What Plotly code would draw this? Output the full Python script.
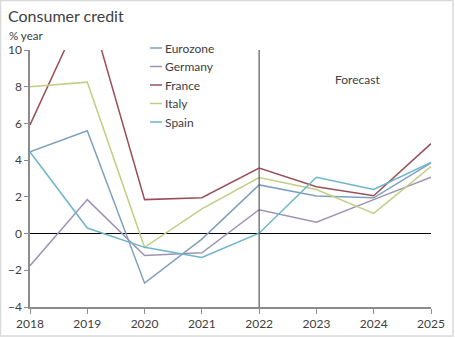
import plotly.graph_objects as go

years = [2018, 2019, 2020, 2021, 2022, 2023, 2024, 2025]
eurozone = [4.45, 5.6, -2.7, -0.3, 2.65, 2.05, 1.95, 3.85]
germany = [-1.75, 1.85, -1.2, -1.05, 1.3, 0.62, 1.85, 3.07]
france = [5.92, 12.7, 1.85, 1.95, 3.57, 2.55, 2.06, 4.9]
italy = [8.0, 8.25, -0.75, 1.35, 3.05, 2.4, 1.1, 3.65]
spain = [4.45, 0.3, -0.75, -1.3, 0.02, 3.07, 2.4, 3.88]

series = [
    ("Eurozone", eurozone, "#7f9fbf"),
    ("Germany", germany, "#9e92b4"),
    ("France", france, "#9a4f58"),
    ("Italy", italy, "#c2cd85"),
    ("Spain", spain, "#6cb3cc"),
]

FONT = "Lato"
TXT = "#404040"

fig = go.Figure()
for name, vals, col in series:
    fig.add_trace(go.Scatter(x=years, y=vals, mode="lines", name=name,
                             line=dict(color=col, width=1.5), showlegend=False))

W, H = 455, 338
ml, mr, mt, mb = 30, 24, 50, 31
pw, ph = W - ml - mr, H - mt - mb

def px_x(p):
    return (p - ml) / pw

def px_y(p):
    return (H - mb - p) / ph

shapes = [
    dict(type="line", xref="x", yref="paper", x0=2022, x1=2022, y0=0, y1=1,
         line=dict(color="#595959", width=1.2)),
    dict(type="rect", xref="paper", yref="paper",
         x0=px_x(0.5), x1=px_x(453), y0=px_y(336), y1=px_y(0.5),
         line=dict(color="#d9d9d9", width=1.5), fillcolor="rgba(0,0,0,0)", layer="below"),
]
annotations = [
    dict(text="Consumer credit", xref="paper", yref="paper", x=px_x(6), y=px_y(15),
         xanchor="left", yanchor="middle", showarrow=False,
         font=dict(size=16, color=TXT, family=FONT)),
    dict(text="% year", xref="paper", yref="paper", x=px_x(7), y=px_y(35),
         xanchor="left", yanchor="middle", showarrow=False,
         font=dict(size=11.5, color=TXT, family=FONT)),
    dict(text="Forecast", xref="paper", yref="paper", x=px_x(333), y=px_y(79),
         xanchor="left", yanchor="middle", showarrow=False,
         font=dict(size=12, color=TXT, family=FONT)),
]

# manual legend
leg_y0, leg_dy = 48, 18.5
for i, (name, vals, col) in enumerate(series):
    yy = leg_y0 + i * leg_dy
    shapes.append(dict(type="line", xref="paper", yref="paper",
                       x0=px_x(150), x1=px_x(162), y0=px_y(yy), y1=px_y(yy),
                       line=dict(color=col, width=1.5)))
    annotations.append(dict(text=name, xref="paper", yref="paper", x=px_x(162.5), y=px_y(yy),
                            xanchor="left", yanchor="middle", showarrow=False,
                            font=dict(size=12, color=TXT, family=FONT)))

fig.update_layout(
    width=W, height=H,
    margin=dict(l=ml, r=mr, t=mt, b=mb, autoexpand=False),
    paper_bgcolor="white", plot_bgcolor="white",
    font=dict(family=FONT, size=12, color=TXT),
    showlegend=False,
    xaxis=dict(range=[2018, 2025], tickvals=years, ticktext=[str(y) for y in years],
               showgrid=False, zeroline=False, showline=True, linecolor="#8c8c8c",
               linewidth=1.5, ticks="outside", ticklen=5, tickcolor="#8c8c8c",
               automargin=False, tickfont=dict(size=12, color=TXT)),
    yaxis=dict(range=[-4, 10], dtick=2, showgrid=False, zeroline=True,
               zerolinecolor="#000000", zerolinewidth=1.2, showline=True,
               linecolor="#8c8c8c", linewidth=1.5, ticks="outside", ticklen=4,
               tickcolor="#8c8c8c", automargin=False, tickfont=dict(size=12, color=TXT)),
    shapes=shapes,
    annotations=annotations,
)

fig.write_html("out.html")
